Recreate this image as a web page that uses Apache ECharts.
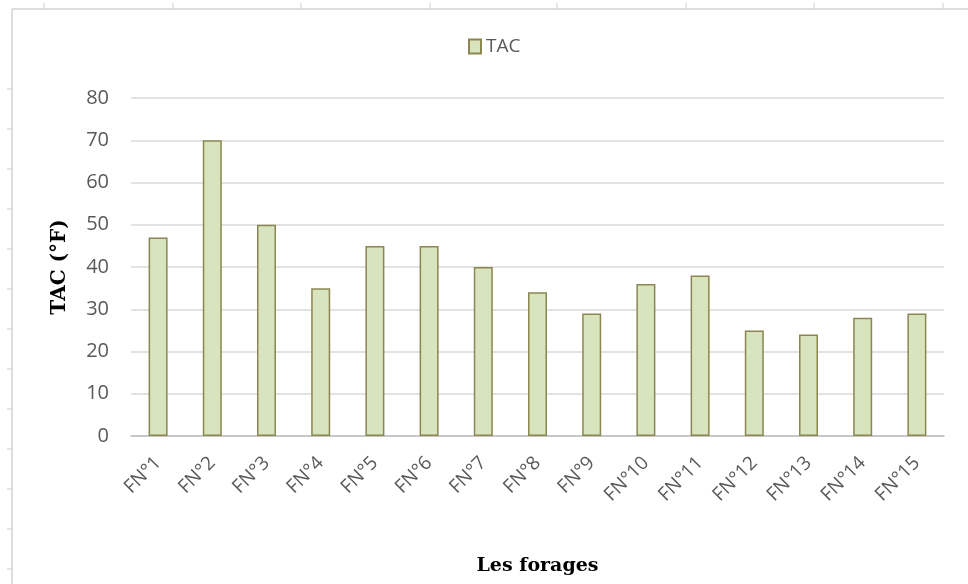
<!DOCTYPE html>
<html>
<head>
<meta charset="utf-8">
<script src="https://cdn.jsdelivr.net/npm/echarts@6/dist/echarts.min.js"></script>
<style>
  html, body { margin: 0; padding: 0; background: #fff; }
  #chart { width: 968px; height: 584px; }
</style>
</head>
<body>
<div id="chart"></div>
<script>
  // forages et valeurs TAC
  var categories = ['FN°1', 'FN°2', 'FN°3', 'FN°4', 'FN°5', 'FN°6', 'FN°7', 'FN°8',
    'FN°9', 'FN°10', 'FN°11', 'FN°12', 'FN°13', 'FN°14', 'FN°15'];
  var tacValues = [47, 70, 50, 35, 45, 45, 40, 34, 29, 36, 38, 25, 24, 28, 29];
  var yTicks = [0, 10, 20, 30, 40, 50, 60, 70, 80];

  var chart = echarts.init(document.getElementById('chart'));

  // cadre gris en haut et à gauche (règle du tableur)
  var frame = [
    { type: 'line', shape: { x1: 12, y1: 9, x2: 968, y2: 9 }, style: { stroke: '#dedede', lineWidth: 2 } },
    { type: 'line', shape: { x1: 12, y1: 9, x2: 12, y2: 584 }, style: { stroke: '#dedede', lineWidth: 2 } }
  ];
  [44, 173, 301, 430, 557, 686, 814, 943].forEach(function (x) {
    frame.push({ type: 'line', shape: { x1: x, y1: 3, x2: x, y2: 9 }, style: { stroke: '#d0d0d0', lineWidth: 1 } });
  });
  [89, 129, 169, 209, 249, 289, 329, 369, 409, 449, 489, 529, 569].forEach(function (y) {
    frame.push({ type: 'line', shape: { x1: 7, y1: y, x2: 12, y2: y }, style: { stroke: '#d0d0d0', lineWidth: 1 } });
  });

  chart.setOption({
    animation: false,
    textStyle: { fontFamily: 'Open Sans' },
    graphic: frame,
    legend: {
      top: 32,
      left: 463,
      icon: 'rect',
      itemWidth: 12,
      itemHeight: 14,
      itemGap: 4,
      textStyle: { color: '#595959', fontSize: 19 },
      data: ['TAC']
    },
    grid: { left: 131, right: 24, top: 98, bottom: 148 },
    xAxis: {
      type: 'category',
      data: categories,
      name: 'Les forages',
      nameLocation: 'middle',
      nameGap: 121,
      nameTextStyle: { fontFamily: 'DejaVu Serif', fontWeight: 'bold', fontSize: 19, color: '#000' },
      axisLine: { lineStyle: { color: '#bfbfbf', width: 1.5 } },
      axisTick: { length: 7, lineStyle: { color: '#bfbfbf' } },
      axisLabel: { rotate: 45, color: '#595959', fontSize: 19, margin: 24 }
    },
    yAxis: {
      type: 'value',
      min: yTicks[0],
      max: yTicks[yTicks.length - 1],
      interval: 10,
      name: 'TAC (°F)',
      nameLocation: 'middle',
      nameGap: 61,
      nameTextStyle: { fontFamily: 'DejaVu Serif', fontWeight: 'bold', fontSize: 20, color: '#000' },
      axisLine: { show: false },
      axisTick: { show: false },
      axisLabel: { color: '#595959', fontSize: 20, margin: 22 },
      splitLine: { lineStyle: { color: '#d9d9d9', width: 1.5 } }
    },
    series: [{
      name: 'TAC',
      type: 'bar',
      data: tacValues,
      barWidth: 19,
      itemStyle: { color: '#d7e4bd', borderColor: '#8c8650', borderWidth: 1.5 }
    }]
  });
</script>
</body>
</html>
